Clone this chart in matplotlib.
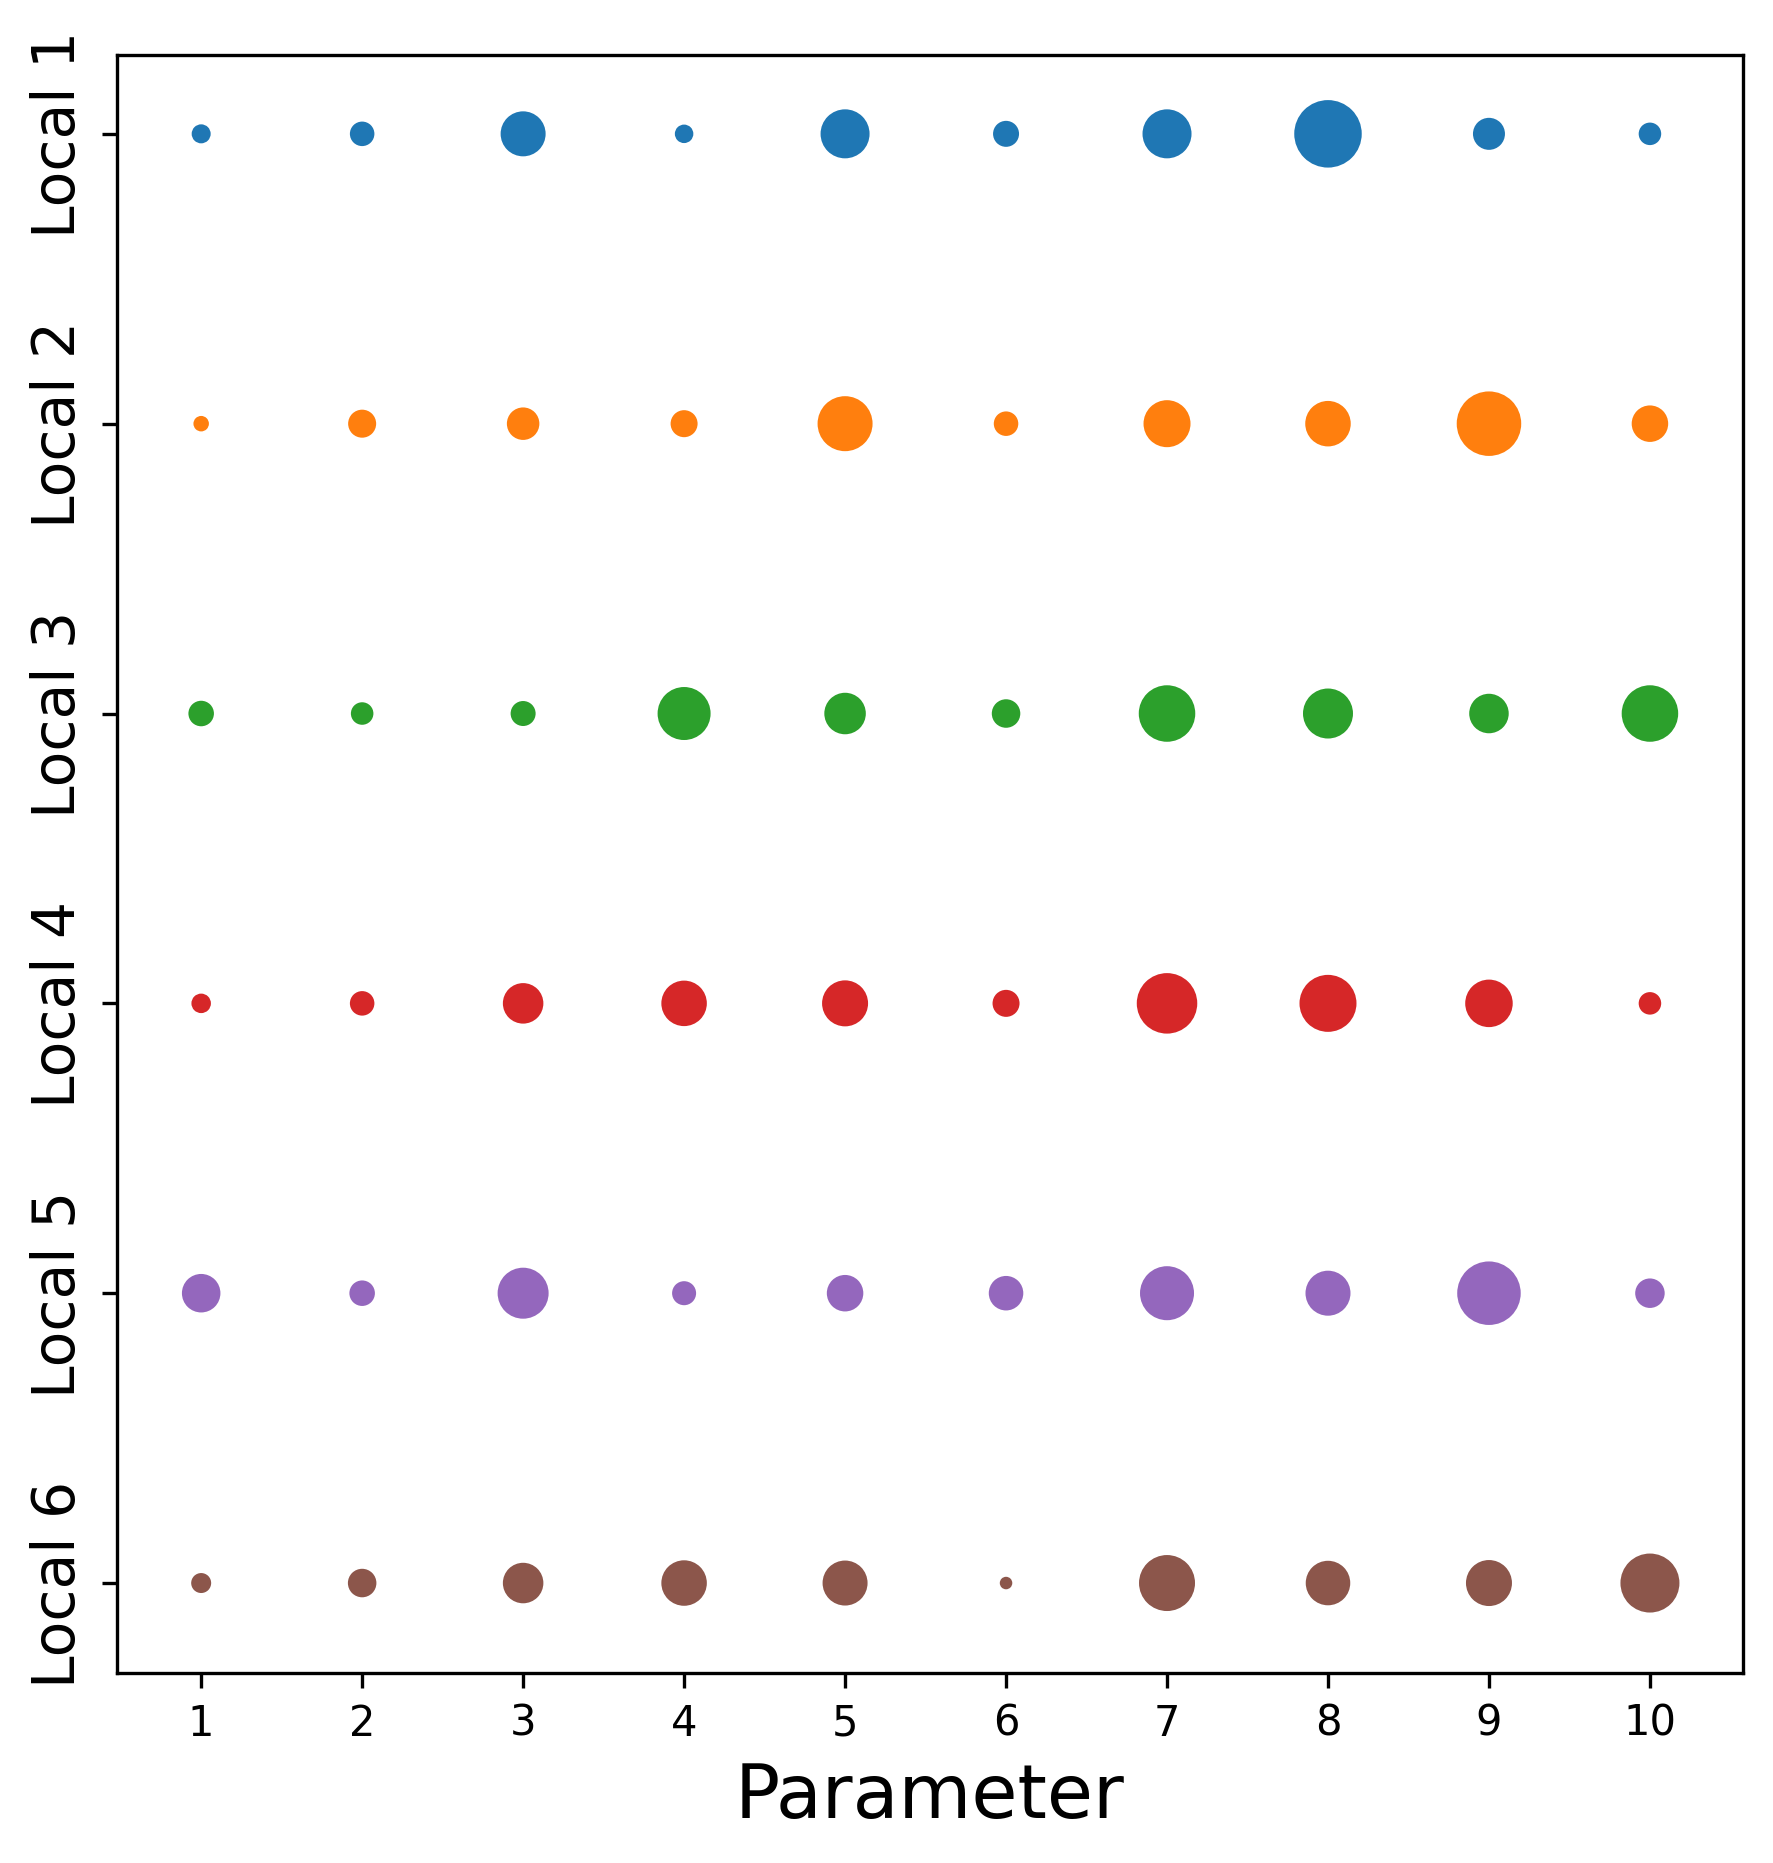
import matplotlib
matplotlib.use("Agg")
import matplotlib.pyplot as plt

parameters = [1, 2, 3, 4, 5, 6, 7, 8, 9, 10]
locals_ = ["Local 1", "Local 2", "Local 3", "Local 4", "Local 5", "Local 6"]

# marker areas (points^2)
local1 = [20.8, 34.6, 116.6, 19.7, 138.3, 38.9, 138.3, 262.4, 59.0, 29.2]
local2 = [13.8, 45.2, 60.8, 42.0, 174.2, 34.6, 127.2, 119.2, 239.6, 76.7]
local3 = [37.5, 29.2, 36.0, 161.8, 99.2, 46.8, 183.9, 144.0, 89.9, 183.9]
local4 = [21.9, 34.6, 94.5, 119.2, 121.9, 42.0, 210.8, 187.1, 130.0, 29.2]
local5 = [85.4, 37.5, 149.8, 33.2, 76.7, 68.6, 168.0, 116.6, 232.3, 50.1]
local6 = [23.0, 46.8, 94.5, 119.2, 116.6, 9.0, 180.6, 114.1, 121.9, 200.5]
series = [local1, local2, local3, local4, local5, local6]

W, H, DPI = 1773, 1864, 300
fig = plt.figure(figsize=(W / DPI, H / DPI), dpi=DPI)
ax = fig.add_axes([116.5 / W, 1 - 1673.6 / H, (1742.5 - 116.5) / W, (1673.6 - 56) / H])

for i, sizes in enumerate(series):
    ax.scatter(parameters, [i] * len(parameters), s=sizes, color=f"C{i}", linewidths=0)

ax.set_xlim(0.474, 10.575)
ax.set_ylim(5.309, -0.272)
ax.set_xticks(parameters)
ax.set_xticklabels([str(p) for p in parameters], fontsize=10)
ax.set_yticks(range(len(locals_)))
ax.set_yticklabels(locals_, fontsize=14, rotation=90, va="center")
ax.set_xlabel("Parameter", fontsize=18)

fig.savefig("out.png", dpi=DPI)
